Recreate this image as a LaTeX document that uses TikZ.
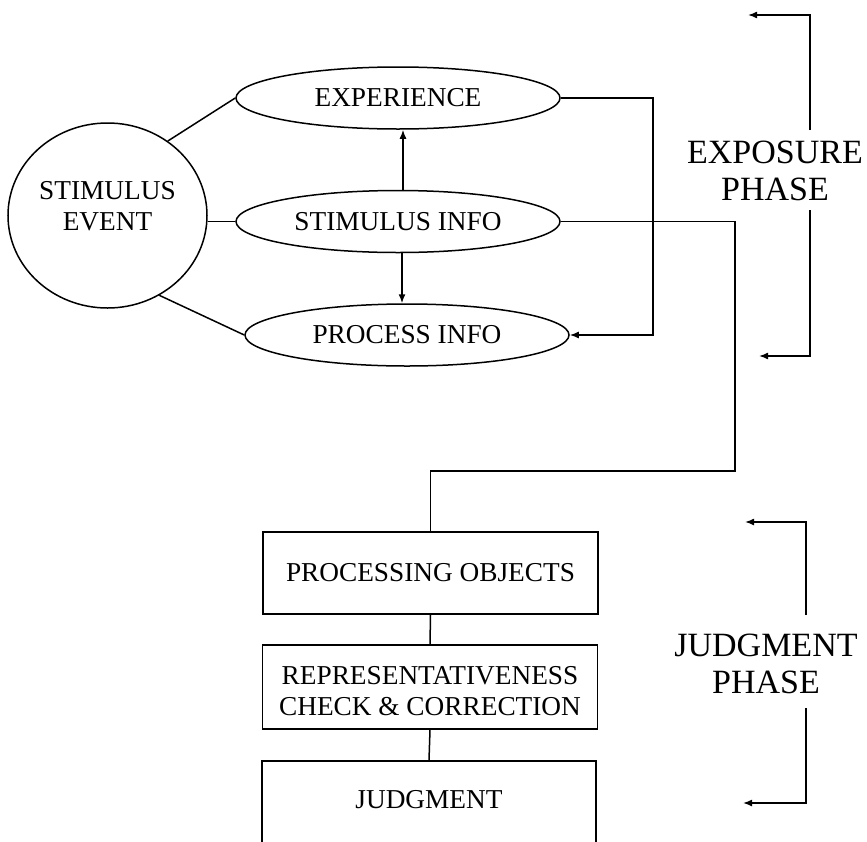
\documentclass[tikz,border=0pt]{standalone}
\usepackage{fontspec}
\setmainfont{Liberation Serif}
\usetikzlibrary{arrows.meta,shapes.geometric,calc}
\begin{document}
\begin{tikzpicture}[x=1pt,y=-1pt,
  line width=1.5pt,
  every node/.style={inner sep=0pt},
  txt/.style={font=\fontsize{27.3}{31}\selectfont, align=center},
  phase/.style={font=\fontsize{34}{37}\selectfont, align=center},
  oval/.style={draw, ellipse, minimum width=324pt, minimum height=62pt, txt},
  boxnode/.style={draw, rectangle, minimum width=335pt, txt},
  arr/.style={-{Latex[length=9pt,width=7pt]}},
]
\useasboundingbox (0,0) rectangle (867,841);

% exposure phase
\node[draw, ellipse, minimum width=199pt, minimum height=185pt] (ev) at (107.5,215.5) {};
\node[txt] (evt) at (107.5,206) {STIMULUS\\EVENT};
\node[oval] (exp) at (398,98) {EXPERIENCE};
\node[oval] (si) at (398,221.5) {STIMULUS INFO};
\node[oval] (pi) at (407,335) {PROCESS INFO};

\draw (ev.51) -- (exp.west);
\draw (si.west) -- (si.west -| ev.east);
\draw (ev.-57) -- (pi.west);

\draw[arr] ([xshift=5pt]si.north) -- ([xshift=5pt]si.north |- exp.south);
\draw[arr] ([xshift=4pt]si.south) -- ([xshift=4pt]si.south |- pi.north);

\coordinate (r1) at (653,98);
\draw[arr] (exp.east) -- (exp.east -| r1) |- (pi.east);

% judgment phase
\node[boxnode, minimum height=82pt] (proc) at (430.5,573) {PROCESSING OBJECTS};
\node[draw, rectangle, minimum width=335pt, minimum height=84pt] (rep) at (430,687) {};
\node[txt] (rept) at (430,691) {REPRESENTATIVENESS\\CHECK \& CORRECTION};
\node[draw, minimum width=334pt, minimum height=120pt, anchor=north] (judg) at (429,760) {};
\node[txt] (judt) at (429,800) {JUDGMENT};

\coordinate (r2) at (735,471);
\draw (si.east) -| (r2) -| (proc.north);
\draw (proc.south) -- (rep.north);
\draw (rep.south) -- (judg.north);

% phase labels and brackets
\node[phase] (expl) at (775,171) {EXPOSURE\\PHASE};
\node[phase] (judl) at (766,664) {JUDGMENT\\PHASE};

\coordinate (ea) at (810,15);
\coordinate (eat) at (748,15);
\coordinate (eb) at (810,130);
\coordinate (ec) at (810,210);
\coordinate (ed) at (810,356);
\coordinate (edt) at (759,356);
\draw[arr] (eb) -- (ea) -- (eat);
\draw[arr] (ec) -- (ed) -- (edt);

\coordinate (ja) at (806,522);
\coordinate (jat) at (745,522);
\coordinate (jb) at (806,615);
\coordinate (jc) at (806,708);
\coordinate (jd) at (806,803);
\coordinate (jdt) at (743,803);
\draw[arr] (jb) -- (ja) -- (jat);
\draw[arr] (jc) -- (jd) -- (jdt);
\end{tikzpicture}
\end{document}
